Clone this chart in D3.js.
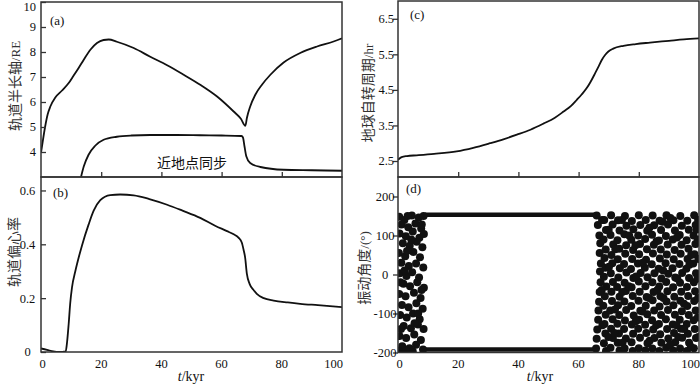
<!DOCTYPE html>
<html><head><meta charset="utf-8">
<script src="https://cdn.jsdelivr.net/npm/d3@7"></script>
<style>body{margin:0;background:#fff}</style>
</head><body><svg id="c" width="700" height="387"></svg>
<script>
// ---------- data ----------
const xTicks = [0, 20, 40, 60, 80, 100];
const aTicks = [4, 5, 6, 7, 8, 9, 10];
const bTicks = [0, 0.2, 0.4, 0.6];
const cTicks = [2.5, 3.5, 4.5, 5.5, 6.5];
const dTicks = [-200, -100, 0, 100, 200];

// (a) semi-major axis
const tSemi = [0, 0.66, 1.4, 2.2, 3.1, 4.75, 7.0, 9.2, 10.8, 12.5, 14.2, 16.4, 18.6, 20.8, 22.5, 25.2, 30.8, 36.3, 41.9, 47.4, 52.9, 58.5, 64, 66.4, 67.9, 68.4, 69.5, 71.2, 73.4, 76.2, 80.6, 86.1, 91.7, 97.2, 100];
const vSemi = [3.97, 4.49, 5.03, 5.5, 5.82, 6.18, 6.46, 6.76, 7.05, 7.36, 7.69, 8.09, 8.36, 8.48, 8.5, 8.41, 8.16, 7.81, 7.47, 7.09, 6.69, 6.22, 5.62, 5.33, 5.05, 5.36, 5.82, 6.29, 6.69, 7.09, 7.58, 7.96, 8.22, 8.42, 8.55];
// (a) perigee-synchronous radius
const tPeri = [13.0, 14.2, 15.8, 18.0, 20.8, 25.2, 30, 36.3, 45, 52.9, 60, 66.6, 67.1, 67.6, 68.2, 69.5, 72.9, 80.6, 90, 100];
const vPeri = [2.85, 3.42, 3.89, 4.25, 4.49, 4.61, 4.66, 4.68, 4.68, 4.67, 4.66, 4.64, 4.58, 4.23, 3.83, 3.56, 3.4, 3.29, 3.27, 3.25];
// (b) eccentricity
const tEcc = [0, 2, 4.1, 6, 8.2, 8.6, 9.2, 9.7, 10.3, 11.4, 12.5, 13.6, 15.8, 17.5, 19.7, 23, 26.3, 30.8, 36, 41.9, 47, 52.9, 58, 61.8, 64, 65.6, 66.7, 67.3, 67.8, 68.4, 69.3, 70.5, 71.7, 74, 77.3, 82, 86.1, 92, 100];
const vEcc = [0.013, 0.008, 0.002, 0.0, 0.002, 0.03, 0.105, 0.18, 0.24, 0.3, 0.35, 0.395, 0.473, 0.525, 0.564, 0.583, 0.585, 0.582, 0.568, 0.547, 0.525, 0.498, 0.468, 0.449, 0.437, 0.425, 0.407, 0.38, 0.352, 0.29, 0.253, 0.232, 0.216, 0.2, 0.191, 0.184, 0.179, 0.174, 0.167];
// (c) Earth spin period
const tSpin = [0, 0.5, 1.2, 3, 6.2, 12, 19.5, 25, 30.6, 35, 39.5, 44, 48.3, 52, 55, 57.5, 59.4, 61, 62.7, 64, 65.5, 66.7, 67.7, 68.8, 69.9, 71.5, 74.9, 79, 83.7, 90, 95, 100];
const vSpin = [2.53, 2.57, 2.61, 2.64, 2.66, 2.7, 2.77, 2.87, 3.0, 3.11, 3.24, 3.38, 3.55, 3.71, 3.89, 4.05, 4.22, 4.37, 4.55, 4.73, 4.97, 5.17, 5.34, 5.48, 5.58, 5.66, 5.74, 5.79, 5.83, 5.88, 5.92, 5.95];
// (d) libration angle: locked bands
const tLock = [9, 66];
const vLockHigh = [153, 153];
const vLockLow = [-192, -192];
// (d) libration angle: circulating samples [t, angle]
const libration = [
[0.4,148],[2.1,140],[4.6,151],[6.9,146],[8.5,150],[1.2,128],[3.4,121],[5.8,131],[7.7,118],
[0.5,105],[2.6,98],[4.9,110],[7.1,94],[8.6,104],[1.6,80],[3.9,74],[6.2,84],[8.1,70],
[0.3,55],[2.4,47],[5.1,58],[7.3,44],[1.1,30],[3.6,22],[6.0,28],[8.4,18],
[0.6,3],[2.8,-4],[4.7,6],[7.0,-8],[1.8,-24],[4.0,-30],[6.4,-20],[8.6,-34],
[0.4,-50],[2.5,-56],[5.3,-47],[7.5,-60],[1.3,-78],[3.5,-84],[6.1,-74],[8.2,-88],
[0.7,-104],[2.9,-110],[5.0,-100],[7.2,-115],[1.9,-132],[4.3,-138],[6.6,-128],[8.5,-140],
[0.5,-158],[2.7,-163],[5.4,-154],[7.6,-168],[1.4,-184],[3.8,-189],[6.0,-180],[8.3,-192],
[0.3,-196],[4.9,-197],[2.6,-196],
[1.0,-140],[3.0,60],[5.5,-125],[7.8,-40],[2.2,10],[4.4,90],[6.7,-100],[3.2,150],[7.9,128],[0.8,-20],
[66.0,151],[66.4,127],[66.9,100],[67.2,80],[67.0,55],[67.4,28],[67.1,8],[67.3,-20],[67.0,-45],[66.8,-70],[66.6,-92],[66.5,-116],[66.2,-141],[66.0,-165],[65.8,-190],
[68.5,140],[69.1,114],[68.3,90],[69.0,64],[68.6,42],[68.9,17],[68.4,-6],[69.2,-31],[68.7,-56],[68.2,-80],[69.0,-103],[68.6,-127],[68.9,-151],[68.4,-176],[69.1,-196],
[70.8,152],[71.3,128],[70.6,101],[71.5,77],[70.9,50],[71.2,29],[70.7,3],[71.4,-19],[70.9,-44],[71.1,-68],[70.5,-92],[71.3,-115],[70.8,-139],[71.4,-163],[70.6,-188],
[73.1,139],[73.6,113],[72.9,88],[73.5,66],[73.0,39],[73.7,16],[73.2,-8],[72.8,-32],[73.6,-57],[73.1,-79],[73.5,-104],[72.9,-126],[73.4,-151],[73.0,-175],[73.6,-195],
[75.4,150],[75.9,125],[75.2,103],[75.8,75],[75.5,53],[75.1,27],[75.9,5],[75.3,-21],[75.7,-42],[75.2,-69],[75.8,-91],[75.4,-118],[75.1,-140],[75.7,-164],[75.3,-190],
[77.7,137],[78.2,116],[77.5,89],[78.1,63],[77.8,40],[77.4,14],[78.2,-9],[77.6,-33],[78.0,-55],[77.5,-81],[78.3,-105],[77.7,-128],[78.1,-152],[77.6,-174],[78.0,-196],
[80.0,152],[80.5,127],[79.8,100],[80.4,78],[80.1,52],[79.7,28],[80.6,4],[80.0,-18],[80.3,-44],[79.9,-67],[80.5,-93],[80.1,-116],[79.8,-139],[80.4,-162],[80.0,-189],
[82.3,140],[82.8,112],[82.1,91],[82.7,65],[82.4,38],[82.0,17],[82.9,-7],[82.2,-30],[82.6,-58],[82.3,-80],[82.8,-102],[82.1,-129],[82.5,-150],[82.9,-176],[82.2,-195],
[84.6,151],[85.1,126],[84.4,102],[85.0,76],[84.7,54],[84.3,26],[85.2,3],[84.5,-20],[84.9,-45],[84.6,-66],[85.1,-92],[84.4,-117],[84.8,-141],[85.2,-163],[84.5,-190],
[86.9,138],[87.4,114],[86.7,87],[87.3,64],[87.0,41],[86.6,15],[87.5,-10],[86.8,-31],[87.2,-56],[86.9,-82],[87.4,-104],[86.7,-127],[87.1,-153],[87.5,-175],[86.8,-196],
[89.2,152],[89.7,128],[89.0,99],[89.6,77],[89.3,51],[88.9,29],[89.8,2],[89.1,-19],[89.5,-43],[89.2,-69],[89.7,-91],[89.0,-115],[89.4,-140],[89.8,-164],[89.1,-188],
[91.5,139],[92.0,113],[91.3,90],[91.9,63],[91.6,39],[91.2,16],[92.1,-8],[91.4,-33],[91.8,-57],[91.5,-79],[92.0,-103],[91.3,-128],[91.7,-150],[92.1,-174],[91.4,-195],
[93.8,150],[94.3,125],[93.6,101],[94.2,76],[93.9,53],[93.5,27],[94.4,4],[93.7,-21],[94.1,-44],[93.8,-67],[94.3,-94],[93.6,-116],[94.0,-139],[94.4,-162],[93.7,-190],
[96.1,138],[96.6,115],[95.9,88],[96.5,66],[96.2,40],[95.8,15],[96.7,-9],[96.0,-32],[96.4,-55],[96.1,-81],[96.6,-104],[95.9,-127],[96.3,-152],[96.7,-175],[96.0,-196],
[98.4,152],[98.9,127],[98.2,100],[98.8,78],[98.5,52],[98.1,28],[99.0,3],[98.3,-20],[98.7,-43],[98.4,-68],[98.9,-92],[98.2,-117],[98.6,-140],[99.0,-163],[98.3,-189],
[99.7,140],[99.6,90],[99.8,40],[99.5,-10],[99.7,-60],[99.6,-110],[99.8,-160],
[67.8,140],[70.0,115],[72.2,65],[74.5,-45],[76.8,100],[79.0,-120],[81.3,30],[83.6,-170],[85.9,85],[88.2,-60],
[90.5,145],[92.8,-10],[95.1,-140],[97.4,50],[69.9,-160],[72.1,-90],[74.4,140],[76.6,-30],[78.9,75],[81.2,-95],
[83.5,120],[85.8,-130],[88.1,10],[90.4,-180],[92.7,95],[95.0,-75],[97.3,-185],[99.2,115],[70.1,20],[74.6,-175],
[79.1,-5],[83.4,-60],[87.9,135],[92.5,-130],[96.8,25],[67.9,-130],[67.7,-40],[71.9,-150],[86.2,-40],[93.1,-160]
];

// ---------- drawing ----------
const svg = d3.select('#c');
const SERIF = '"Liberation Serif","Times New Roman",serif';
const CJK = '"Noto Sans CJK SC","Noto Sans",sans-serif';
const INK = '#111', FRAME = '#333';

const xL = d3.scaleLinear().domain([0, 100]).range([41, 342]);
const xR = d3.scaleLinear().domain([0, 100]).range([398, 699]);
const yA = d3.scaleLinear().domain([3, 10]).range([177, 2]);
const yB = d3.scaleLinear().domain([0, 0.65]).range([352, 177]);
const yC = d3.scaleLinear().domain([2.05, 7]).range([177, 1]);
const yD = d3.scaleLinear().domain([-200, 250]).range([352.5, 177]);

const defs = svg.append('defs');
function clip(id, x, y) {
  defs.append('clipPath').attr('id', id).append('rect')
    .attr('x', x.range()[0]).attr('y', y.range()[1])
    .attr('width', x.range()[1] - x.range()[0]).attr('height', y.range()[0] - y.range()[1]);
  return 'url(#' + id + ')';
}

function yAxis(x, y, ticks, inward, fmt, labelX, anchor) {
  const g = svg.append('g').attr('transform', `translate(${x.range()[0]},0)`);
  g.call(d3.axisLeft(y).tickValues(ticks).tickSize(inward ? -5 : 5).tickFormat(''));
  g.select('.domain').remove();
  g.selectAll('line').attr('stroke', FRAME).attr('stroke-width', 1.3);
  svg.append('g').selectAll('text').data(ticks).join('text')
    .attr('x', labelX).attr('y', d => Math.max(y(d), 7)).attr('dy', '0.35em')
    .attr('text-anchor', anchor).attr('font-family', SERIF).attr('font-size', 12.5)
    .attr('fill', INK).text(fmt);
}
function xTickMarks(x, yPos) {
  const g = svg.append('g').attr('transform', `translate(0,${yPos})`);
  g.call(d3.axisBottom(x).tickValues(xTicks.slice(1, -1)).tickSize(-5).tickFormat(''));
  g.select('.domain').remove();
  g.selectAll('line').attr('stroke', FRAME).attr('stroke-width', 1.3);
}
function xLabels(x, yPos) {
  svg.append('g').selectAll('text').data(xTicks).join('text')
    .attr('x', (d, i) => i === xTicks.length - 1 ? x(d) + 1 : x(d) + (i === 0 ? 1.5 : 0))
    .attr('y', yPos).attr('text-anchor', (d, i) => i === xTicks.length - 1 ? 'end' : 'middle')
    .attr('font-family', SERIF).attr('font-size', 12.5).attr('fill', INK).text(d => d);
}
function frame(x, y) {
  svg.append('rect').attr('x', x.range()[0]).attr('y', y.range()[1])
    .attr('width', x.range()[1] - x.range()[0]).attr('height', y.range()[0] - y.range()[1])
    .attr('fill', 'none').attr('stroke', FRAME).attr('stroke-width', 1.5);
}
function curve(x, y, ts, vs, cp) {
  const pts = ts.map((t, i) => [t, vs[i]]);
  svg.append('path').datum(pts).attr('clip-path', cp)
    .attr('d', d3.line().x(d => x(d[0])).y(d => y(d[1])).curve(d3.curveMonotoneX))
    .attr('fill', 'none').attr('stroke', INK).attr('stroke-width', 1.8);
}
function yTitle(cx, cy, cjk, latin) {
  const t = svg.append('text').attr('transform', `translate(${cx},${cy}) rotate(-90)`)
    .attr('text-anchor', 'middle').attr('dy', '0.35em').attr('fill', '#333');
  t.append('tspan').attr('font-family', CJK).attr('font-size', 14).text(cjk);
  if (latin) t.append('tspan').attr('font-family', SERIF).attr('font-size', 13).text(latin);
}
function panelLabel(x, y, s) {
  svg.append('text').attr('x', x).attr('y', y).attr('font-family', SERIF)
    .attr('font-size', 13).attr('fill', INK).text(s);
}
function xTitle(cx, y) {
  const t = svg.append('text').attr('x', cx).attr('y', y).attr('text-anchor', 'middle')
    .attr('font-family', SERIF).attr('font-size', 14).attr('fill', INK);
  t.append('tspan').attr('font-style', 'italic').text('t');
  t.append('tspan').text('/kyr');
}

// Panel (a)
const cpA = clip('cpA', xL, yA);
curve(xL, yA, tSemi, vSemi, cpA);
curve(xL, yA, tPeri, vPeri, cpA);
svg.append('text').attr('x', 192).attr('y', yA(3.55)).attr('dy', '0.35em')
  .attr('text-anchor', 'middle').attr('font-family', CJK).attr('font-size', 14)
  .attr('fill', INK).text('近地点同步');
yAxis(xL, yA, aTicks, true, d => d, 36, 'end');
xTickMarks(xL, 177);
frame(xL, yA);
panelLabel(50, 25, '(a)');
yTitle(14, 86, '轨道半长轴', '/RE');

// Panel (b)
const cpB = clip('cpB', xL, yB);
curve(xL, yB, tEcc, vEcc, cpB);
yAxis(xL, yB, bTicks, true, d => d === 0 ? '0' : d3.format('.1f')(d), 27.5, 'middle');
frame(xL, yB);
panelLabel(53, 197, '(b)');
yTitle(13, 252, '轨道偏心率', '');
xLabels(xL, 368);
xTitle(191, 381);

// Panel (c)
const cpC = clip('cpC', xR, yC);
curve(xR, yC, tSpin, vSpin, cpC);
yAxis(xR, yC, cTicks, false, d => d3.format('.1f')(d), 394, 'end');
xTickMarks(xR, 177);
frame(xR, yC);
panelLabel(410, 19, '(c)');
yTitle(367, 93, '地球自转周期', '/hr');

// Panel (d)
const cpD = clip('cpD', xR, yD);
const gD = svg.append('g').attr('clip-path', cpD);
[vLockHigh, vLockLow].forEach(vs => {
  gD.append('path').datum(tLock.map((t, i) => [t, vs[i]]))
    .attr('d', d3.line().x(d => xR(d[0])).y(d => yD(d[1])))
    .attr('stroke', INK).attr('stroke-width', 4.5).attr('fill', 'none');
});
gD.selectAll('circle').data(libration).join('circle')
  .attr('cx', d => xR(d[0])).attr('cy', d => yD(d[1])).attr('r', 4).attr('fill', INK);
yAxis(xR, yD, dTicks, false, d => d, 385, 'middle');
frame(xR, yD);
panelLabel(406, 193, '(d)');
yTitle(363, 268, '振动角度', '/(°)');
xLabels(xR, 368);
xTitle(540, 381);
</script></body></html>
